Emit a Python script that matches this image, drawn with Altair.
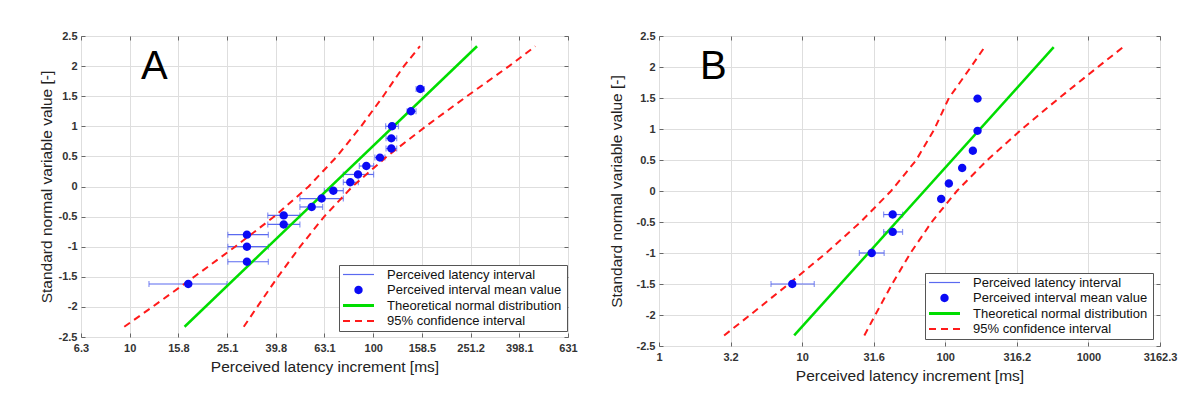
import altair as alt
import pandas as pd

# ---------------- shared ----------------
LEGEND_LABELS = ["Perceived latency interval", "Perceived interval mean value",
                 "Theoretical normal distribution", "95% confidence interval"]
BAR_COLOR = "#5a6af0"
PT_COLOR = "#0a0af5"
GREEN = "#00dd00"
RED = "#ff1a1a"
LEGEND_COLORS = [BAR_COLOR, PT_COLOR, GREEN, RED]
LEGEND_SHAPES = [
    "M-3.1,-0.12H3.1V0.12H-3.1Z",
    "M0.84,0A0.84,0.84 0 1,1 -0.84,0A0.84,0.84 0 1,1 0.84,0Z",
    "M-3.1,-0.3H3.1V0.3H-3.1Z",
    "M-3.1,-0.2H-1.7V0.2H-3.1Z M-0.7,-0.2H0.7V0.2H-0.7Z M1.7,-0.2H3.1V0.2H1.7Z",
]

Y_TICKS = [-2.5, -2, -1.5, -1, -0.5, 0, 0.5, 1, 1.5, 2, 2.5]
Y_LABELS = ["-2.5", "-2", "-1.5", "-1", "-0.5", "0", "0.5", "1", "1.5", "2", "2.5"]

# ---------------- panel A ----------------
A_Y = [-1.62, -1.25, -1.00, -0.80, -0.63, -0.48, -0.34, -0.20, -0.07,
       0.07, 0.20, 0.34, 0.48, 0.63, 0.80, 1.00, 1.25, 1.62]
A_X = [17.4, 30.3, 30.3, 30.3, 42.9, 42.9, 55.9, 61.4, 68.6,
       80.5, 86.6, 93.7, 106.6, 118.7, 118.7, 119.5, 142.9, 156.1]
A_LO = [12.0, 25.3, 25.3, 25.3, 36.9, 36.9, 50.0, 50.0, 63.0,
        75.4, 75.4, 87.7, 101.6, 112.9, 112.9, 112.5, 137.7, 150.0]
A_HI = [25.1, 37.1, 37.1, 37.1, 50.0, 50.0, 62.0, 75.4, 75.4,
        86.9, 100.4, 100.4, 111.7, 124.9, 124.9, 127.0, 149.9, 162.0]
A_GREEN_X = [16.8, 267.0]
A_GREEN_Y = [-2.33, 2.33]
A_RED_Y = [-2.33, -2, -1.5, -1, -0.5, 0, 0.5, 1, 1.5, 2, 2.33]
A_RED_LEFT_X = [9.5, 12.4, 18.4, 27.1, 39.2, 54.3, 71.0, 89.2, 109.9, 133.7, 155.6]
A_RED_RIGHT_X = [29.4, 33.4, 40.6, 50.1, 62.9, 82.2, 113.9, 164.6, 242.7, 361.4, 463.0]
A_X_TICKS = [6.3096, 10, 15.849, 25.119, 39.811, 63.096, 100, 158.49, 251.19, 398.11, 630.96]
A_X_LABELS = ["6.3", "10", "15.8", "25.1", "39.8", "63.1", "100", "158.5", "251.2", "398.1", "631"]

# ---------------- panel B ----------------
B_Y = [-1.50, -1.00, -0.66, -0.38, -0.13, 0.12, 0.37, 0.65, 0.97, 1.49]
B_X = [8.53, 30.6, 42.9, 42.9, 93.6, 105.9, 131.2, 155.8, 168.0, 168.0]
B_BAR_Y = [-1.50, -1.00, -0.66, -0.38]
B_LO = [6.06, 25.1, 37.1, 37.1]
B_HI = [12.15, 37.4, 50.3, 50.3]
B_GREEN_X = [8.8, 572.0]
B_GREEN_Y = [-2.33, 2.32]
B_RED_Y = [-2.33, -2, -1.5, -1, -0.5, 0, 0.5, 1, 1.5, 2, 2.32]
B_RED_LEFT_X = [2.85, 4.33, 8.06, 14.7, 25.6, 41.8, 62.7, 84.0, 106.0, 151.0, 188.0]
B_RED_RIGHT_X = [27.2, 32.4, 42.5, 57.2, 80.3, 120.5, 196.6, 343.3, 624.5, 1164.0, 1745.0]
B_X_TICKS = [1, 3.1623, 10, 31.623, 100, 316.23, 1000, 3162.28]
B_X_LABELS = ["1", "3.2", "10", "31.6", "100", "316.2", "1000", "3162.3"]

FONT = "Liberation Sans"


def label_expr(vals, labs):
    expr = "''"
    for v, l in reversed(list(zip(vals, labs))):
        tol = abs(v) * 0.001 + 1e-6
        expr = f"abs(datum.value - ({v})) < {tol} ? '{l}' : ({expr})"
    return expr


def tick_axis(orient, values):
    return alt.Axis(orient=orient, values=values, labels=False, domain=False, grid=False,
                    ticks=True, tickSize=4, tickColor="#666666", tickWidth=1,
                    offset=-4, title=None)


def make_panel(px, py, bar_y, lo, hi, gx, gy, ry, rlx, rrx, xdom, xticks, xlabels,
               width, height, letter, letter_x, legend_x, legend_y, y_title_pad):
    xscale = alt.Scale(type="log", domain=xdom, nice=False)
    yscale = alt.Scale(domain=[-2.5, 2.5], nice=False, zero=False)

    pts = pd.DataFrame({"x": px, "y": py, "series": LEGEND_LABELS[1]})
    bars = pd.DataFrame({"y": bar_y, "lo": lo, "hi": hi})
    green = pd.DataFrame({"x": gx, "y": gy})
    n = len(ry)
    red = pd.DataFrame({"x": rlx + rrx, "y": ry + ry, "side": ["left"] * n + ["right"] * n})

    main_x_axis = alt.Axis(values=xticks, labelExpr=label_expr(xticks, xlabels), grid=True,
                           gridColor="#dedede", ticks=False, domain=False, labelPadding=5,
                           labelFont=FONT, labelFontSize=11, labelFontWeight="bold",
                           labelColor="#333333", labelFlush=False,
                           title="Perceived latency increment [ms]", titleFont=FONT,
                           titleFontSize=15.5, titleFontWeight="normal", titleColor="#222222",
                           titlePadding=6)
    main_y_axis = alt.Axis(values=Y_TICKS, labelExpr=label_expr(Y_TICKS, Y_LABELS), grid=True,
                           gridColor="#dedede", ticks=False, domain=False, labelPadding=4,
                           labelFont=FONT, labelFontSize=11, labelFontWeight="bold",
                           labelColor="#333333", labelFlush=False,
                           title="Standard normal variable value [-]", titleFont=FONT,
                           titleFontSize=15.5, titleFontWeight="normal", titleColor="#222222",
                           titlePadding=y_title_pad)

    rules = alt.Chart(bars).mark_rule(color=BAR_COLOR, strokeWidth=1.2).encode(
        x=alt.X("lo:Q", scale=xscale, axis=main_x_axis),
        x2="hi:Q",
        y=alt.Y("y:Q", scale=yscale, axis=main_y_axis),
    )
    caps_lo = alt.Chart(bars).mark_tick(color=BAR_COLOR, orient="vertical", size=6, thickness=1.2).encode(
        x=alt.X("lo:Q", scale=xscale, axis=tick_axis("bottom", xticks)),
        y=alt.Y("y:Q", scale=yscale, axis=None),
    )
    caps_hi = alt.Chart(bars).mark_tick(color=BAR_COLOR, orient="vertical", size=6, thickness=1.2).encode(
        x=alt.X("hi:Q", scale=xscale, axis=tick_axis("top", xticks)),
        y=alt.Y("y:Q", scale=yscale, axis=None),
    )
    leg = alt.Legend(title="\u00a0\u00a0", titleOrient="right", titleFontSize=13, titlePadding=3,
                     orient="none", legendX=legend_x, legendY=legend_y,
                     strokeColor="#555555", fillColor="white", padding=3,
                     labelFont=FONT, labelFontSize=13, labelColor="#111111", labelLimit=400,
                     symbolSize=100, symbolStrokeWidth=0, symbolOffset=10, labelOffset=22,
                     rowPadding=1.5)
    points = alt.Chart(pts).mark_point(filled=True, size=100, opacity=1, strokeWidth=0).encode(
        x=alt.X("x:Q", scale=xscale, axis=None),
        y=alt.Y("y:Q", scale=yscale, axis=tick_axis("left", Y_TICKS)),
        color=alt.Color("series:N", scale=alt.Scale(domain=LEGEND_LABELS, range=LEGEND_COLORS), legend=leg),
        shape=alt.Shape("series:N", scale=alt.Scale(domain=LEGEND_LABELS, range=LEGEND_SHAPES), legend=leg),
    )
    gline = alt.Chart(green).mark_line(color=GREEN, strokeWidth=2.5).encode(
        x=alt.X("x:Q", scale=xscale, axis=None),
        y=alt.Y("y:Q", scale=yscale, axis=tick_axis("right", Y_TICKS)),
    )
    rlines = alt.Chart(red).mark_line(color=RED, strokeWidth=2, strokeDash=[7, 5]).encode(
        x=alt.X("x:Q", scale=xscale, axis=None),
        y=alt.Y("y:Q", scale=yscale, axis=None),
        detail="side:N",
        order="y:Q",
    )
    txt = alt.Chart(pd.DataFrame({"t": [letter]})).mark_text(
        fontSize=40, font=FONT, align="left", baseline="alphabetic", color="black"
    ).encode(text="t:N", x=alt.value(letter_x), y=alt.value(43))

    return alt.layer(rules, caps_lo, caps_hi, gline, rlines, points, txt).resolve_axis(
        x="independent", y="independent"
    ).properties(width=width, height=height)


panel_a = make_panel(A_X, A_Y, A_Y, A_LO, A_HI, A_GREEN_X, A_GREEN_Y, A_RED_Y, A_RED_LEFT_X,
                     A_RED_RIGHT_X, [6.3096, 630.96], A_X_TICKS, A_X_LABELS,
                     487, 301, "A", 60, 258, 229, 4)
panel_b = make_panel(B_X, B_Y, B_BAR_Y, B_LO, B_HI, B_GREEN_X, B_GREEN_Y, B_RED_Y, B_RED_LEFT_X,
                     B_RED_RIGHT_X, [1, 3162.28], B_X_TICKS, B_X_LABELS,
                     501, 310, "B", 41, 266, 237, 12)

chart = alt.hconcat(panel_a, panel_b, spacing=30).resolve_scale(
    color="independent", shape="independent"
).properties(
    padding={"left": 30, "top": 21, "right": 5, "bottom": 5}
).configure_view(stroke="#6e6e6e", strokeWidth=1)

chart.save("out.html", embed_options={"renderer": "svg", "actions": False})
